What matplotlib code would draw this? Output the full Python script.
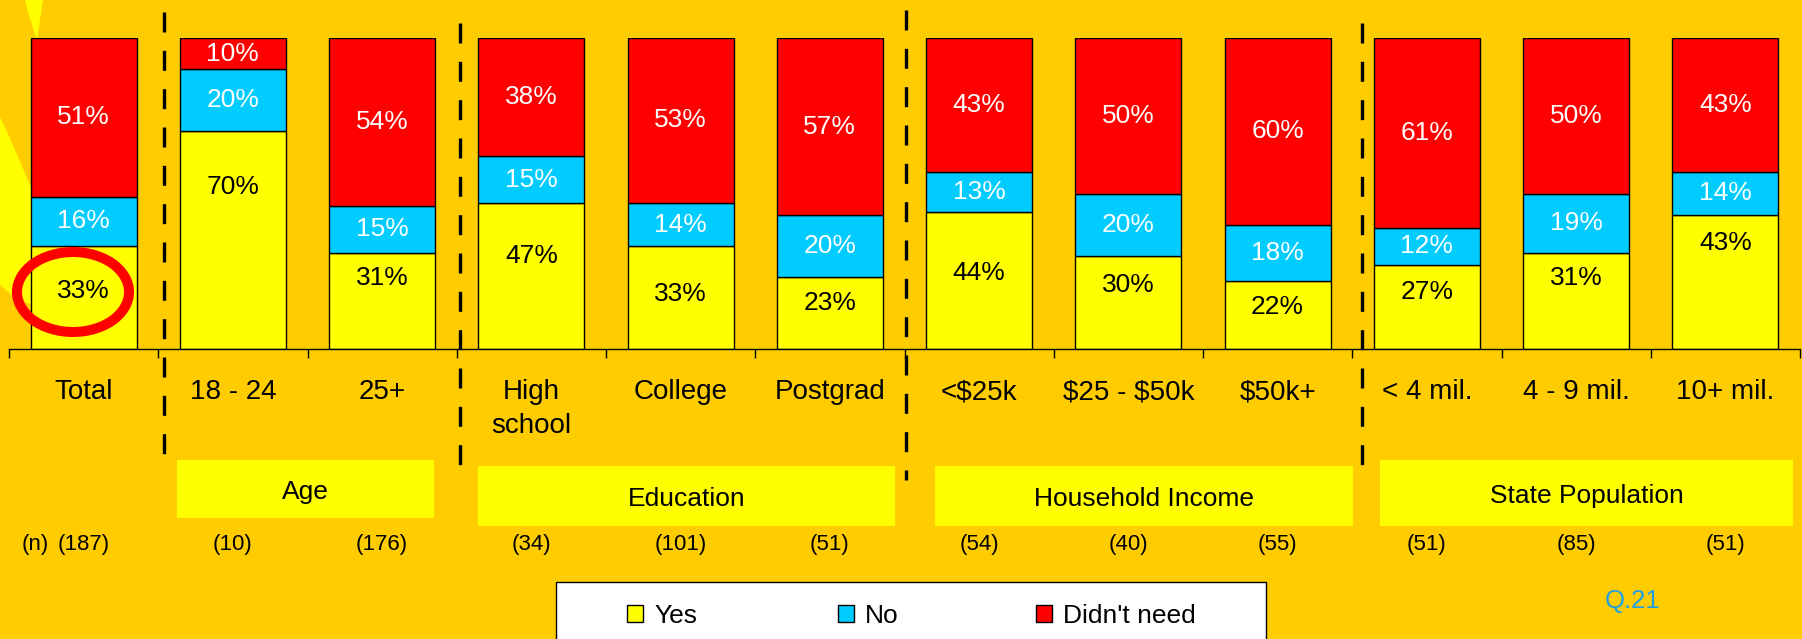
import numpy as np
import matplotlib.pyplot as plt
from matplotlib.patches import Rectangle, Ellipse, Polygon
from matplotlib.lines import Line2D
from matplotlib.transforms import Affine2D, blended_transform_factory

plt.rcParams["font.family"] = ["Liberation Sans", "DejaVu Sans"]

categories = ["Total", "18 - 24", "25+", "High\nschool", "College", "Postgrad",
              "<\\$25k", "\\$25 - \\$50k", "\\$50k+", "< 4 mil.", "4 - 9 mil.", "10+ mil."]
yes = [33, 70, 31, 47, 33, 23, 44, 30, 22, 27, 31, 43]
no = [16, 20, 15, 15, 14, 20, 13, 20, 18, 12, 19, 14]
didnt_need = [51, 10, 54, 38, 53, 57, 43, 50, 60, 61, 50, 43]
sample_n = [187, 10, 176, 34, 101, 51, 54, 40, 55, 51, 85, 51]
groups = ["Age", "Education", "Household Income", "State Population"]

# where the "Yes" labels sit inside the yellow segments (value units)
yes_label_y = [18.6, 52.0, 22.8, 29.9, 17.7, 14.8, 24.4, 20.6, 13.5, 18.3, 22.8, 34.1]

YELLOW, BLUE, RED, BG = "#FFFF00", "#00CCFF", "#FF0000", "#FFCC00"
W, H = 1802, 639

fig = plt.figure(figsize=(W / 100, H / 100), dpi=100, facecolor=BG)
# pixel coordinates, origin top-left
pix = Affine2D().scale(1 / W, -1 / H).translate(0, 1) + fig.transFigure

# swirl in the top-left corner
fig.add_artist(Polygon([(25, 0), (43, 0), (37, 40), (33, 28), (28, 12)],
                       closed=True, transform=pix, fc=YELLOW, ec="none", zorder=-2))
fig.add_artist(Polygon([(0, 117), (8, 134), (16, 152), (24, 171), (32, 190),
                        (32, 305), (14, 297), (0, 285)],
                       closed=True, transform=pix, fc=YELLOW, ec="none", zorder=-2))

ax = fig.add_axes([9 / W, 1 - 349 / H, 1791 / W, 311 / H])
ax.set_facecolor("none")
x = np.arange(len(categories))
bw = 0.71
kw = dict(width=bw, edgecolor="black", linewidth=1.0, zorder=2)
ax.bar(x, yes, color=YELLOW, **kw)
ax.bar(x, no, bottom=yes, color=BLUE, **kw)
bottom_red = np.array(yes) + np.array(no)
ax.bar(x, didnt_need, bottom=bottom_red, color=RED, **kw)

ax.set_xlim(-0.5, len(categories) - 0.5)
ax.set_ylim(0, 100)
for s in ["top", "left", "right"]:
    ax.spines[s].set_visible(False)
ax.spines["bottom"].set_linewidth(1.0)
ax.set_yticks([])
ax.set_xticks(x)
ax.set_xticklabels([])
ax.tick_params(axis="x", which="major", length=0)
ax.set_xticks(np.arange(-0.5, len(categories), 1), minor=True)
ax.tick_params(axis="x", which="minor", length=6.5, width=1.0, direction="out", color="black")

for i in x:
    ax.text(i, yes_label_y[i], f"{yes[i]}%", ha="center", va="center",
            fontsize=19, color="black", zorder=3)
    ax.text(i, yes[i] + no[i] / 2, f"{no[i]}%", ha="center", va="center",
            fontsize=19, color="white", zorder=3)
    ax.text(i, bottom_red[i] + didnt_need[i] / 2, f"{didnt_need[i]}%", ha="center",
            va="center", fontsize=19, color="white", zorder=3)

# x in data units, y in pixels
xpix = blended_transform_factory(ax.transData, pix)
for i, lab in enumerate(categories):
    ax.text(i, 379, lab, transform=xpix, ha="center", va="top", fontsize=20,
            linespacing=1.4, clip_on=False)
    ax.text(i, 550, f"({sample_n[i]})", transform=xpix, ha="center", va="baseline",
            fontsize=16, clip_on=False)
fig.text(49, 550, "(n)", transform=pix, ha="right", va="baseline", fontsize=16)

# dashed separators between the groups
for sx, top, bot in [(164, 12, 462), (460, 23, 472), (906, 10, 480), (1362, 23, 471)]:
    fig.add_artist(Line2D([sx, sx], [top, bot], transform=pix, color="black",
                          lw=2.4, linestyle=(0, (6, 5.5)), zorder=4))

# group name boxes
group_boxes = [(177, 460, 434, 518), (478, 466, 895, 526),
               (935, 466, 1353, 526), (1380, 460, 1793, 526)]
for name, (x0, y0, x1, y1) in zip(groups, group_boxes):
    fig.add_artist(Rectangle((x0, y0), x1 - x0, y1 - y0, transform=pix,
                             fc=YELLOW, ec="none", zorder=1))
    fig.text((x0 + x1) / 2, (y0 + y1) / 2 + 9.7, name, transform=pix,
             ha="center", va="baseline", fontsize=19)

# highlight on the total "Yes"
fig.add_artist(Ellipse((73, 292), 112, 80, transform=pix, fill=False,
                       ec=RED, lw=7.2, zorder=5))

# legend
fig.add_artist(Rectangle((556, 582), 710, 80, transform=pix, fc="white",
                         ec="black", lw=1.0, zorder=1))
for sqx, col, lab in [(627, YELLOW, "Yes"), (838, BLUE, "No"), (1036, RED, "Didn't need")]:
    fig.add_artist(Rectangle((sqx, 605), 16, 17, transform=pix, fc=col,
                             ec="black", lw=1.0, zorder=2))
    fig.text(sqx + 27, 623, lab, transform=pix, ha="left", va="baseline",
             fontsize=19, zorder=2)

fig.text(1605, 608, "Q.21", transform=pix, ha="left", va="baseline",
         fontsize=18.5, color="#1E9FE6")

fig.savefig("out.png", dpi=100, facecolor=BG)
